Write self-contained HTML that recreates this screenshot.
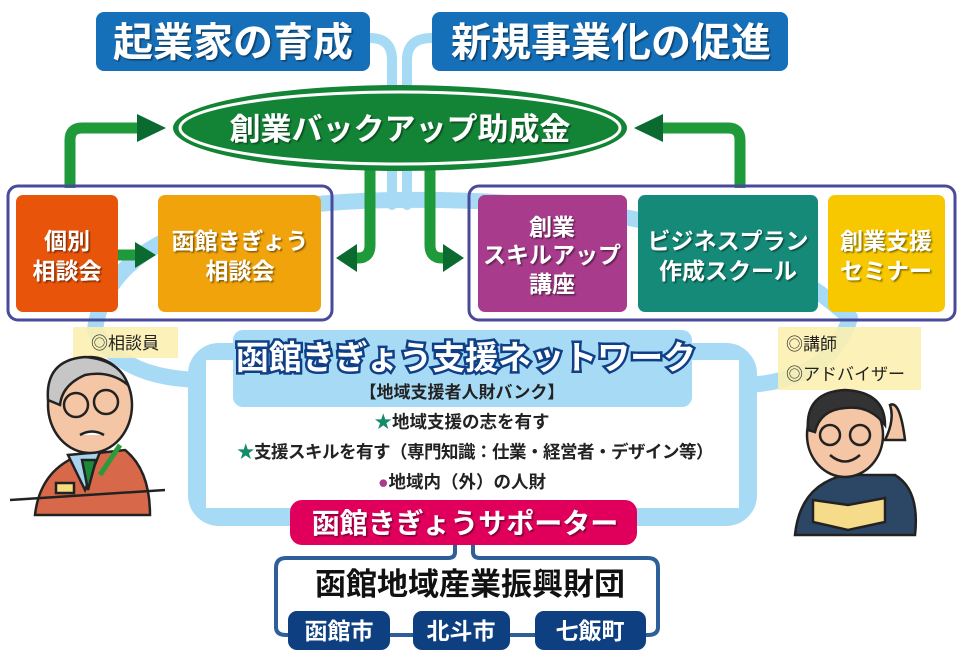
<!DOCTYPE html>
<html><head><meta charset="utf-8"><style>
html,body{margin:0;padding:0;background:#fff;}
svg{display:block;}
text{font-family:"Liberation Sans","Noto Sans CJK JP",sans-serif;font-weight:bold;}
</style></head><body>
<svg width="962" height="653" viewBox="0 0 962 653" xmlns="http://www.w3.org/2000/svg">
<defs>
<filter id="sh" x="-5%" y="-5%" width="110%" height="120%"><feDropShadow dx="1.5" dy="1.5" stdDeviation="0.8" flood-color="#000" flood-opacity="0.45"/></filter>
</defs>
<!-- light blue band -->
<g fill="none" stroke="#a6daf5" stroke-linecap="round">
<path d="M95 330 Q110 205 395 200 Q720 196 850 318" stroke-width="16"/>
<path d="M95 330 Q120 378 200 380" stroke-width="16"/>
<path d="M850 318 Q830 380 748 385" stroke-width="16"/>
<path d="M370 38 Q392 38 392 60 L392 205" stroke-width="10"/>
<path d="M432 38 Q407 38 407 60 L407 205" stroke-width="10"/>
<rect x="197" y="352" width="551" height="165" rx="22" stroke-width="18"/>
</g>
<rect x="206" y="360" width="533" height="148" fill="#fff"/>
<rect x="233" y="330" width="459" height="77" rx="10" fill="#a6daf5"/>
<!-- top blue boxes -->
<rect x="96" y="12" width="274" height="59" rx="8" fill="#1670b9"/>
<text x="233" y="56" font-size="40" fill="#fff" text-anchor="middle" filter="url(#sh)">起業家の育成</text>
<rect x="432" y="12" width="356" height="59" rx="8" fill="#1670b9"/>
<text x="611" y="56" font-size="40" fill="#fff" text-anchor="middle" filter="url(#sh)">新規事業化の促進</text>
<!-- green arrows -->
<g fill="none" stroke="#1f9a3a" stroke-width="11">
<path d="M70 188 L70 140 Q70 128 82 128 L140 128"/>
<path d="M740 188 L740 140 Q740 128 728 128 L660 128"/>
<path d="M370 170 L370 245 Q370 258 358 258 L350 258"/>
<path d="M430 170 L430 245 Q430 258 442 258 L450 258"/>
</g>
<g fill="#0b6a30">
<polygon points="137,114 166,128 137,142"/>
<polygon points="663,114 634,128 663,142"/>
<polygon points="357,244 336,258 357,272"/>
<polygon points="443,244 464,258 443,272"/>
</g>
<!-- ellipse -->
<ellipse cx="400" cy="128" rx="227" ry="43" fill="#138436"/>
<ellipse cx="400" cy="128" rx="220" ry="36" fill="none" stroke="#fff" stroke-width="3"/>
<text x="400" y="140" font-size="31" fill="#fff" text-anchor="middle" filter="url(#sh)">創業バックアップ助成金</text>
<!-- left group -->
<rect x="8" y="186" width="324" height="134" rx="10" fill="none" stroke="#4a4a9c" stroke-width="3"/>
<rect x="16" y="195" width="102" height="117" rx="7" fill="#e8540a"/>
<text x="67" y="249" font-size="23" fill="#fff" text-anchor="middle" filter="url(#sh)">個別</text>
<text x="67" y="279" font-size="23" fill="#fff" text-anchor="middle" filter="url(#sh)">相談会</text>
<rect x="158" y="195" width="163" height="117" rx="7" fill="#f0a30a"/>
<text x="240" y="249" font-size="23" fill="#fff" text-anchor="middle" filter="url(#sh)">函館きぎょう</text>
<text x="240" y="279" font-size="23" fill="#fff" text-anchor="middle" filter="url(#sh)">相談会</text>
<path d="M118 255 L138 255" stroke="#1f9a3a" stroke-width="11"/>
<polygon points="135,242 156,255 135,268" fill="#0b6a30"/>
<!-- right group -->
<rect x="469" y="186" width="486" height="134" rx="10" fill="none" stroke="#4a4a9c" stroke-width="3"/>
<rect x="478" y="195" width="149" height="117" rx="7" fill="#a83b8c"/>
<text x="552" y="235" font-size="23" fill="#fff" text-anchor="middle" filter="url(#sh)">創業</text>
<text x="552" y="263" font-size="23" fill="#fff" text-anchor="middle" filter="url(#sh)">スキルアップ</text>
<text x="552" y="292" font-size="23" fill="#fff" text-anchor="middle" filter="url(#sh)">講座</text>
<rect x="638" y="195" width="180" height="117" rx="7" fill="#158a78"/>
<text x="728" y="249" font-size="23" fill="#fff" text-anchor="middle" filter="url(#sh)">ビジネスプラン</text>
<text x="728" y="279" font-size="23" fill="#fff" text-anchor="middle" filter="url(#sh)">作成スクール</text>
<rect x="828" y="195" width="117" height="117" rx="7" fill="#f7c800"/>
<text x="886" y="249" font-size="23" fill="#fff" text-anchor="middle" filter="url(#sh)">創業支援</text>
<text x="886" y="279" font-size="23" fill="#fff" text-anchor="middle" filter="url(#sh)">セミナー</text>
<!-- label boxes -->
<rect x="73" y="327" width="105" height="31" fill="#fcefb0" opacity="0.9"/>
<text x="125" y="349" font-size="17" fill="#222" text-anchor="middle" style="font-weight:normal">◎相談員</text>
<rect x="778" y="327" width="143" height="63" fill="#fcefb0" opacity="0.9"/>
<text x="786" y="350" font-size="17" fill="#222" style="font-weight:normal">◎講師</text>
<text x="786" y="380" font-size="17" fill="#222" style="font-weight:normal">◎アドバイザー</text>
<!-- network text -->
<text x="466" y="369" font-size="33" fill="#fff" stroke="#0f3f86" stroke-width="5" paint-order="stroke" text-anchor="middle">函館きぎょう支援ネットワーク</text>
<text x="462" y="398" font-size="17" fill="#222" text-anchor="middle">【地域支援者人財バンク】</text>
<text x="462" y="428" font-size="17.5" fill="#222" text-anchor="middle"><tspan fill="#138a6a">★</tspan>地域支援の志を有す</text>
<text x="475" y="458" font-size="17.5" fill="#222" text-anchor="middle" letter-spacing="-0.5"><tspan fill="#138a6a">★</tspan>支援スキルを有す（専門知識：仕業・経営者・デザイン等）</text>
<text x="462" y="488" font-size="17.5" fill="#222" text-anchor="middle"><tspan fill="#a83b8c">●</tspan>地域内（外）の人財</text>
<!-- supporter -->
<rect x="290" y="500" width="347" height="45" rx="12" fill="#e0005c"/>
<text x="465" y="533" font-size="28" fill="#fff" text-anchor="middle" filter="url(#sh)">函館きぎょうサポーター</text>
<!-- foundation -->
<path d="M455 545 L455 552 Q455 558 448 558 L286 558 Q276 558 276 568 L276 627 Q276 635 286 635 L648 635 Q658 635 658 627 L658 568 Q658 558 648 558 L480 558 Q473 558 473 552 L473 545" fill="#fff" stroke="#2e5f98" stroke-width="4"/>
<text x="470" y="595" font-size="31" fill="#111" text-anchor="middle">函館地域産業振興財団</text>
<rect x="288" y="611" width="102" height="39" rx="9" fill="#0e3f80"/>
<text x="339" y="639" font-size="23" fill="#fff" text-anchor="middle">函館市</text>
<rect x="413" y="611" width="97" height="39" rx="9" fill="#0e3f80"/>
<text x="461" y="639" font-size="23" fill="#fff" text-anchor="middle">北斗市</text>
<rect x="535" y="611" width="111" height="39" rx="9" fill="#0e3f80"/>
<text x="590" y="639" font-size="23" fill="#fff" text-anchor="middle">七飯町</text>
<!-- left character -->
<g stroke="#222" stroke-width="2.5">
<path d="M35 515 Q40 470 80 455 L125 450 Q150 470 150 515 Z" fill="#d8684a"/>
<path d="M68 455 L85 490 L100 452 Z" fill="#a8d4ee"/>
<path d="M82 460 L88 490 L96 460 Z" fill="#1a8a3a"/>
<ellipse cx="90" cy="405" rx="42" ry="48" fill="#f5c6a6"/>
<path d="M48 400 Q45 360 85 357 Q120 360 128 385 Q110 370 85 375 Q62 385 60 405 Z" fill="#c6c6c6"/>
<circle cx="76" cy="405" r="12" fill="none"/>
<circle cx="106" cy="402" r="12" fill="none"/>
<path d="M80 435 Q92 428 104 435" fill="#fff"/>
<rect x="56" y="483" width="18" height="10" fill="#f5dc80"/>
<path d="M100 475 L120 445" stroke="#2a9a3a" stroke-width="5"/>
<path d="M10 500 L165 490" fill="none"/>
</g>
<!-- right character -->
<g stroke="#222" stroke-width="2.5">
<path d="M795 535 Q800 485 845 475 L895 475 Q920 490 915 535 Z" fill="#2c4666"/>
<ellipse cx="845" cy="435" rx="38" ry="42" fill="#f5c6a6"/>
<path d="M808 430 Q805 392 845 390 Q885 392 885 425 Q870 405 845 408 Q820 410 815 432 Z" fill="#333"/>
<circle cx="830" cy="435" r="10" fill="none"/>
<circle cx="860" cy="435" r="10" fill="none"/>
<path d="M830 455 Q845 468 860 455" fill="none"/>
<path d="M885 440 Q895 420 890 405 Q900 400 905 440 Z" fill="#f5c6a6"/>
<path d="M813 500 L848 505 L885 498 L885 522 L848 530 L813 522 Z" fill="#f6dc8a"/>
</g>
</svg>
</body></html>
